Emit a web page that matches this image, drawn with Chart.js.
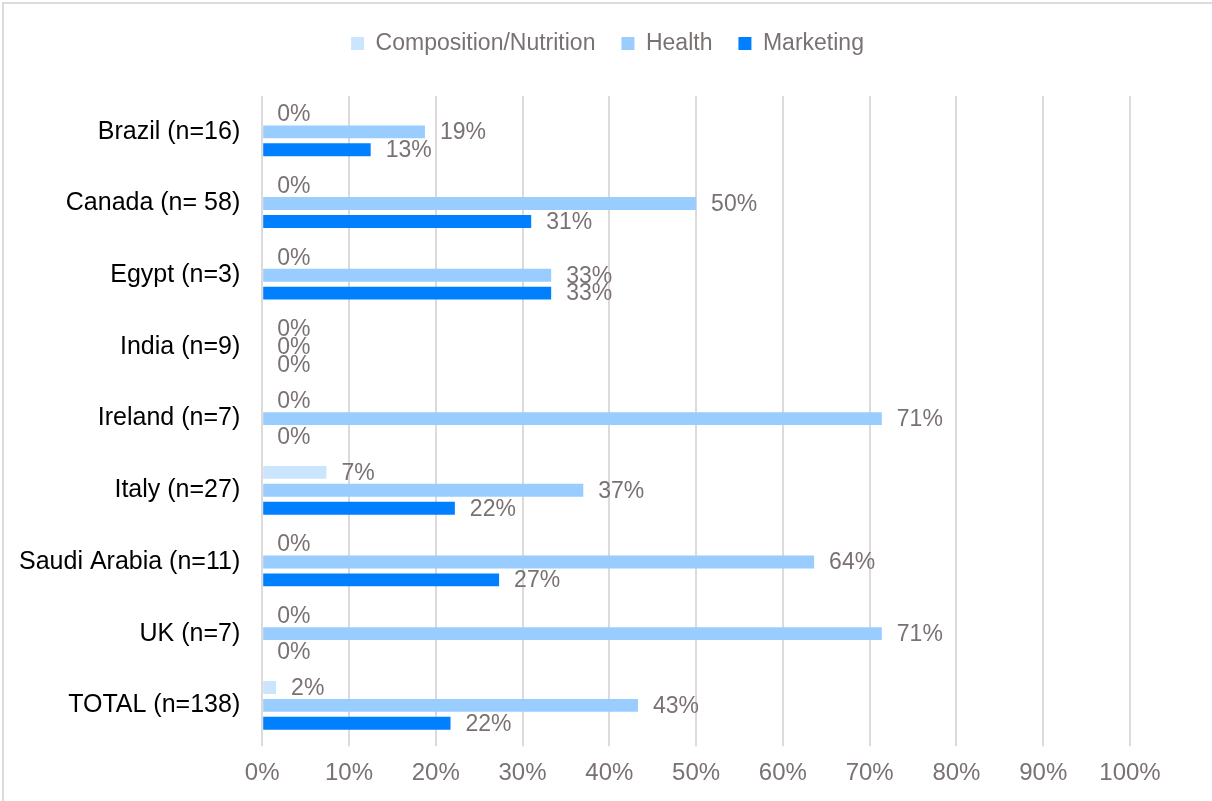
<!DOCTYPE html>
<html>
<head>
<meta charset="utf-8">
<script src="https://cdn.jsdelivr.net/npm/chart.js@4/dist/chart.umd.min.js"></script>
<style>
  html, body { margin: 0; padding: 0; background: #fff; }
  .frame { position: absolute; left: 2px; top: 2px; width: 1212px; height: 801px; border-left: 2px solid #dcdcdc; border-top: 2px solid #dcdcdc; box-sizing: border-box; }
  #chart { position: absolute; left: 0; top: 0; }
</style>
</head>
<body>
<div class="frame"></div>
<canvas id="chart" width="1212" height="801"></canvas>
<script>
// categories and values (% of policies)
const countries = ['Brazil (n=16)', 'Canada (n= 58)', 'Egypt (n=3)', 'India (n=9)', 'Ireland (n=7)',
                   'Italy (n=27)', 'Saudi Arabia (n=11)', 'UK (n=7)', 'TOTAL (n=138)'];
const composition = [0, 0, 0, 0, 0, 7.4, 0, 0, 1.6];
const health      = [18.75, 50, 33.3, 0, 71.4, 37, 63.6, 71.4, 43.3];
const marketing   = [12.5, 31, 33.3, 0, 0, 22.2, 27.3, 0, 21.7];
const xTicks = [0, 10, 20, 30, 40, 50, 60, 70, 80, 90, 100];

const FONT = "'Liberation Sans', Arial, sans-serif";
const GREY = '#7a7272';

// draws "NN%" to the right of each bar
const barLabels = {
  id: 'barLabels',
  afterDatasetsDraw(chart) {
    const ctx = chart.ctx;
    ctx.save();
    ctx.font = '23px ' + FONT;
    ctx.fillStyle = GREY;
    ctx.textAlign = 'left';
    ctx.textBaseline = 'middle';
    chart.data.datasets.forEach((ds, di) => {
      chart.getDatasetMeta(di).data.forEach((bar, i) => {
        ctx.fillText(Math.round(ds.data[i]) + '%', bar.x + 15, bar.y + 1);
      });
    });
    ctx.restore();
  }
};

// extra room under the legend, and legend centred on the page
const legendGap = {
  id: 'legendGap',
  beforeInit(chart) {
    const fit = chart.legend.fit;
    chart.legend.fit = function () {
      fit.bind(chart.legend)();
      this.height += 31;
    };
  },
  afterLayout(chart) {
    chart.legend.left += 40;
    chart.legend.right += 40;
  }
};

new Chart(document.getElementById('chart'), {
  type: 'bar',
  data: {
    labels: countries,
    datasets: [
      { label: 'Composition/Nutrition', data: composition, backgroundColor: '#cce5ff' },
      { label: 'Health', data: health, backgroundColor: '#99ccff' },
      { label: 'Marketing', data: marketing, backgroundColor: '#007fff' }
    ]
  },
  options: {
    indexAxis: 'y',
    responsive: false,
    animation: false,
    categoryPercentage: 0.75,
    barPercentage: 0.72,
    layout: { padding: { left: 5, right: 82, top: 6, bottom: 0 } },
    plugins: {
      tooltip: { enabled: false },
      legend: {
        position: 'top',
        labels: {
          boxWidth: 13, boxHeight: 13, padding: 26,
          color: GREY, font: { family: FONT, size: 23 }
        }
      }
    },
    scales: {
      x: {
        min: 0, max: 100,
        afterBuildTicks: (axis) => { axis.ticks = xTicks.map(v => ({ value: v })); },
        ticks: { callback: v => v + '%', color: GREY, font: { family: FONT, size: 24 }, padding: 13 },
        grid: { color: '#dedada', lineWidth: 2, drawTicks: true, tickLength: 5 },
        border: { display: false }
      },
      y: {
        ticks: { color: '#000', font: { family: FONT, size: 25 }, padding: 14 },
        grid: { display: false },
        border: { display: false }
      }
    }
  },
  plugins: [barLabels, legendGap]
});
</script>
</body>
</html>
